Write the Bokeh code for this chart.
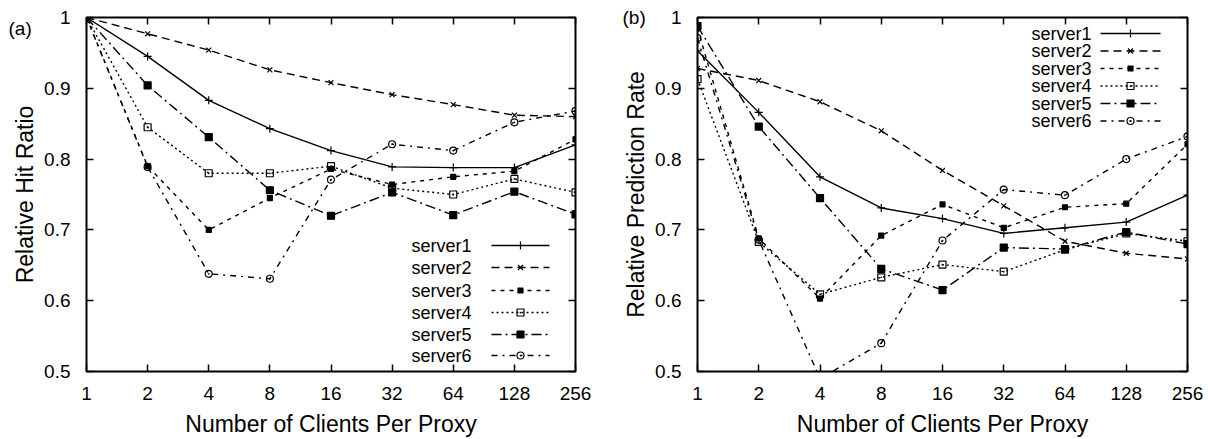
from bokeh.plotting import figure
from bokeh.models import Range1d, FixedTicker, LinearAxis, LogAxis
from bokeh.layouts import row
from bokeh.core.properties import value
from bokeh.embed import file_html
from bokeh.resources import INLINE

# ---------------- data ----------------
clients = [1, 2, 4, 8, 16, 32, 64, 128, 256]
x_tick_labels = ["1", "2", "4", "8", "16", "32", "64", "128", "256"]
y_ticks = [0.5, 0.6, 0.7, 0.8, 0.9, 1.0]
y_tick_labels = ["0.5", "0.6", "0.7", "0.8", "0.9", "1"]
series_names = ["server1", "server2", "server3", "server4", "server5", "server6"]

# (a) Relative Hit Ratio
hit_server1 = [1.0, 0.945, 0.883, 0.843, 0.812, 0.789, 0.788, 0.788, 0.820]
hit_server2 = [1.0, 0.977, 0.954, 0.926, 0.908, 0.891, 0.877, 0.862, 0.860]
hit_server3 = [1.0, 0.790, 0.700, 0.745, 0.786, 0.764, 0.775, 0.783, 0.828]
hit_server4 = [1.0, 0.845, 0.780, 0.780, 0.790, 0.759, 0.750, 0.772, 0.753]
hit_server5 = [1.0, 0.904, 0.831, 0.756, 0.720, 0.753, 0.721, 0.754, 0.722]
hit_server6 = [1.0, 0.789, 0.638, 0.631, 0.771, 0.821, 0.812, 0.852, 0.868]

# (b) Relative Prediction Rate
pred_server1 = [0.953, 0.866, 0.775, 0.731, 0.716, 0.695, 0.703, 0.711, 0.749]
pred_server2 = [0.928, 0.911, 0.881, 0.840, 0.784, 0.734, 0.684, 0.667, 0.659]
pred_server3 = [0.985, 0.688, 0.603, 0.692, 0.736, 0.703, 0.732, 0.737, 0.821]
pred_server4 = [0.913, 0.683, 0.609, 0.633, 0.651, 0.641, 0.672, 0.695, 0.684]
pred_server5 = [0.988, 0.846, 0.745, 0.645, 0.615, 0.675, 0.673, 0.697, 0.680]
pred_server6 = [0.971, 0.686, 0.490, 0.540, 0.685, 0.757, 0.749, 0.800, 0.832]

hit_series = [hit_server1, hit_server2, hit_server3, hit_server4, hit_server5, hit_server6]
pred_series = [pred_server1, pred_server2, pred_server3, pred_server4, pred_server5, pred_server6]

# ---------------- styles ----------------
FONT = "Liberation Sans"
styles = [
    dict(dash="solid", marker="cross", size=8, fill=None),
    dict(dash="8 5", marker="x", size=7, fill=None),
    dict(dash="4 5", marker="square", size=5, fill="black"),
    dict(dash="2 3", marker="square_dot", size=7, fill=None),
    dict(dash="10 4 2 4", marker="square", size=7, fill="black"),
    dict(dash="6 5 2 5", marker="circle_dot", size=7, fill=None),
]
LW = 1.4
FIG_H = 439


def build(series, ylabel, tag, width, bl, br, frame_px, legend_rows, legend_text_right,
          legend_line, tag_left, tag_bottom):
    left, right, top, bottom = frame_px

    def sx(px):
        return 2 ** (8.0 * (px - left) / (right - left))

    def sy(py):
        return 1.0 - 0.5 * (py - top) / (bottom - top)

    p = figure(width=width, height=FIG_H, x_axis_type="log",
               x_range=Range1d(1, 256), y_range=Range1d(0.5, 1.0),
               output_backend="svg", toolbar_location=None,
               min_border_left=bl, min_border_right=br,
               min_border_top=top, min_border_bottom=FIG_H - bottom,
               background_fill_color="white", border_fill_color="white")
    p.outline_line_color = "black"
    p.outline_line_width = 2
    p.xgrid.grid_line_color = None
    p.ygrid.grid_line_color = None

    # panel tag "(a)" / "(b)" as the figure title, pulled down beside the frame
    p.title.text = tag
    p.title.align = "left"
    p.title.vertical_align = "bottom"
    p.title.offset = tag_left - left
    p.title.standoff = -2 * (tag_bottom - (top - 1))
    p.title.text_font = FONT
    p.title.text_font_size = "19px"
    p.title.text_font_style = "normal"
    p.title.text_color = "black"

    xa = p.below[0]
    xa.ticker = FixedTicker(ticks=clients, minor_ticks=[])
    xa.major_label_overrides = {c: l for c, l in zip(clients, x_tick_labels)}
    ya = p.left[0]
    ya.ticker = FixedTicker(ticks=y_ticks, minor_ticks=[])
    ya.major_label_overrides = {t: l for t, l in zip(y_ticks, y_tick_labels)}
    for ax in (xa, ya):
        ax.axis_line_color = None
        ax.major_tick_in = 7
        ax.major_tick_out = 0
        ax.major_tick_line_color = "black"
        ax.major_tick_line_width = 1.5
        ax.minor_tick_line_color = None
        ax.major_label_text_font = FONT
        ax.major_label_text_font_size = "19px"
        ax.major_label_text_color = "black"
        ax.axis_label_text_font = FONT
        ax.axis_label_text_font_size = "23px"
        ax.axis_label_text_font_style = "normal"
        ax.axis_label_text_color = "black"
    xa.axis_label = "Number of Clients Per Proxy"
    xa.major_label_standoff = 15
    xa.axis_label_standoff = 8
    ya.axis_label = ylabel
    ya.major_label_standoff = 16
    ya.axis_label_standoff = 3

    # mirror ticks (gnuplot style)
    top_ax = LogAxis(ticker=FixedTicker(ticks=clients, minor_ticks=[]))
    right_ax = LinearAxis(ticker=FixedTicker(ticks=y_ticks, minor_ticks=[]))
    top_ax.major_label_overrides = {c: "" for c in clients}
    right_ax.major_label_overrides = {t: "" for t in y_ticks}
    for ax in (top_ax, right_ax):
        ax.axis_line_color = None
        ax.major_tick_in = 7
        ax.major_tick_out = 0
        ax.major_tick_line_color = "black"
        ax.major_tick_line_width = 1.5
        ax.minor_tick_line_color = None
        ax.major_label_standoff = 0
        ax.major_label_text_font_size = "1px"
    p.add_layout(top_ax, "above")
    p.add_layout(right_ax, "right")

    for vals, st in zip(series, styles):
        p.line(clients, vals, line_color="black", line_width=LW, line_dash=st["dash"])
        p.scatter(clients, vals, marker=st["marker"], size=st["size"],
                  line_color="black", line_width=1.2, fill_color=st["fill"])

    # legend (gnuplot style: text then sample)
    lx0, lx1 = legend_line
    lxm = (lx0 + lx1) / 2.0
    ys = [sy(r) for r in legend_rows]
    p.text(x=[sx(legend_text_right)] * len(series_names), y=ys, text=series_names,
           text_align="right", text_baseline="middle",
           text_font=value(FONT), text_font_size="18px", text_color="black")
    for yv, st in zip(ys, styles):
        p.line([sx(lx0), sx(lx1)], [yv, yv], line_color="black", line_width=LW,
               line_dash=st["dash"])
        p.scatter([sx(lxm)], [yv], marker=st["marker"], size=st["size"],
                  line_color="black", line_width=1.2, fill_color=st["fill"])
    return p


pa = build(hit_series, "Relative Hit Ratio", "(a)", 604, 86, 29,
           (86, 575, 17, 371),
           [245, 267, 290, 312, 334, 355], 471, (491, 549), 8, 37)
pb = build(pred_series, "Relative Prediction Rate", "(b)", 604, 93, 21,
           (93, 583, 17, 371),
           [33, 50.5, 68, 85.5, 103, 120.5], 1091 - 604, (1100 - 604, 1160 - 604),
           622 - 604, 26)

layout = row(pa, pb)
open("out.html", "w").write(file_html(layout, INLINE))
